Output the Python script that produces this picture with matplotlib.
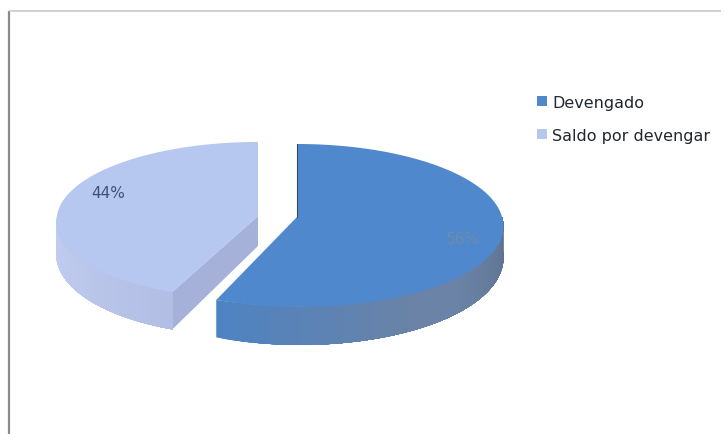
import numpy as np
import matplotlib
matplotlib.use("Agg")
import matplotlib.pyplot as plt
from matplotlib.patches import Polygon, Patch
from matplotlib.colors import to_rgb

categories = ["Devengado", "Saldo por devengar"]
values = [56, 44]
labels = ["56%", "44%"]
top_colors = ["#4F88CC", "#B6C7F0"]

# slice geometry in pixels: apex x, apex y, half width, vertical radius, perspective, front skew
blue_geo = (297, 218, 205, 80.6, 0.104, -3.0)
light_geo = (258, 217, 201, 77.8, 0.051, 8.6)


def project(geo, theta, drop=False):
    cx, cy, a, b, k, s = geo
    u, v = np.cos(theta), np.sin(theta)
    w = 1 + k * v
    x = cx + a * u / w + s * np.minimum(v, 0)
    y = cy - b * v / w
    if drop:
        y = y + 30 - 8 * v
    return x, y


def mix(c1, c2, t):
    c1, c2 = np.array(to_rgb(c1)), np.array(to_rgb(c2))
    return tuple(c1 + (c2 - c1) * t)


def side(geo, t_side, colour_at):
    # paint from each step to the far end, so neighbouring steps leave no seams
    for i in range(len(t_side) - 1):
        part = t_side[i:]
        x1, y1 = project(geo, part)
        x2, y2 = project(geo, part, drop=True)
        ax.add_patch(Polygon(list(zip(x1, y1)) + list(zip(x2[::-1], y2[::-1])),
                             closed=True, fc=colour_at(i / (len(t_side) - 2)), ec="none", zorder=3))


fig = plt.figure(figsize=(7.25, 4.35), dpi=100)
ax = fig.add_axes([0, 0, 1, 1])
ax.set_xlim(0, 725)
ax.set_ylim(435, 0)
ax.axis("off")

# chart frame
ax.plot([9, 9], [12, 435], color="#8A8A8A", lw=1.6, solid_capstyle="butt")
ax.plot([9, 721], [12, 12], color="#C4C4C4", lw=1.1, solid_capstyle="butt")

total = sum(values)
blue_sweep = 2 * np.pi * values[0] / total
light_sweep = 2 * np.pi * values[1] / total
start = np.pi / 2

# ---- light slice (counter-clockwise from 12 o'clock)
t_light = np.linspace(start, start + light_sweep, 120)
xt, yt = project(light_geo, t_light)
ax_x, ax_y = light_geo[0], light_geo[1]
xb_tip, yb_tip = project(light_geo, t_light[-1], drop=True)
ax.add_patch(Polygon([(ax_x, ax_y), (xt[-1], yt[-1]), (xb_tip, yb_tip), (ax_x, ax_y + 30)],
                     closed=True, fc="#A5B1D8", ec="none", zorder=2))
side(light_geo, np.linspace(np.pi, start + light_sweep, 40),
     lambda s: mix("#C3CFF2", "#B3BEE4", s))
ax.add_patch(Polygon([(ax_x, ax_y)] + list(zip(xt, yt)), closed=True,
                     fc=top_colors[1], ec="none", zorder=4))

# ---- blue slice (clockwise from 12 o'clock)
t_blue = np.linspace(start, start - blue_sweep, 160)
xt, yt = project(blue_geo, t_blue)
bx, by = blue_geo[0], blue_geo[1]
side(blue_geo, np.linspace(start - blue_sweep, 0.0, 70),
     lambda s: mix("#4E83C2", "#6A83A6", min(s * 2.2, 1)) if s < 0.6
     else mix("#6A83A6", "#5D6F8C", (s - 0.6) / 0.4))
ax.add_patch(Polygon([(bx, by)] + list(zip(xt, yt)), closed=True,
                     fc=top_colors[0], ec="none", zorder=4))
ax.plot([bx, bx], [by, by - 73], color="#2F4A6B", lw=0.8, zorder=5)

# data labels
ax.text(108, 194, labels[1], color="#3F5273", fontsize=11, family="DejaVu Sans",
        ha="center", va="center", zorder=6)
ax.text(463, 240, labels[0], color="#6E8BAA", fontsize=11, family="DejaVu Sans",
        ha="center", va="center", zorder=6)

# legend
handles = [Patch(fc=c, ec="none") for c in top_colors]
ax.legend(handles, categories, loc="upper left", bbox_to_anchor=(537 / 725, 1 - 96 / 435),
          bbox_transform=ax.transAxes, frameon=False, handlelength=0.6, handleheight=0.6,
          handletextpad=0.35, labelspacing=1.13, borderpad=0, borderaxespad=0,
          prop={"family": "DejaVu Sans", "size": 11.5}, labelcolor="#22262E")

fig.savefig("out.png", dpi=100)
